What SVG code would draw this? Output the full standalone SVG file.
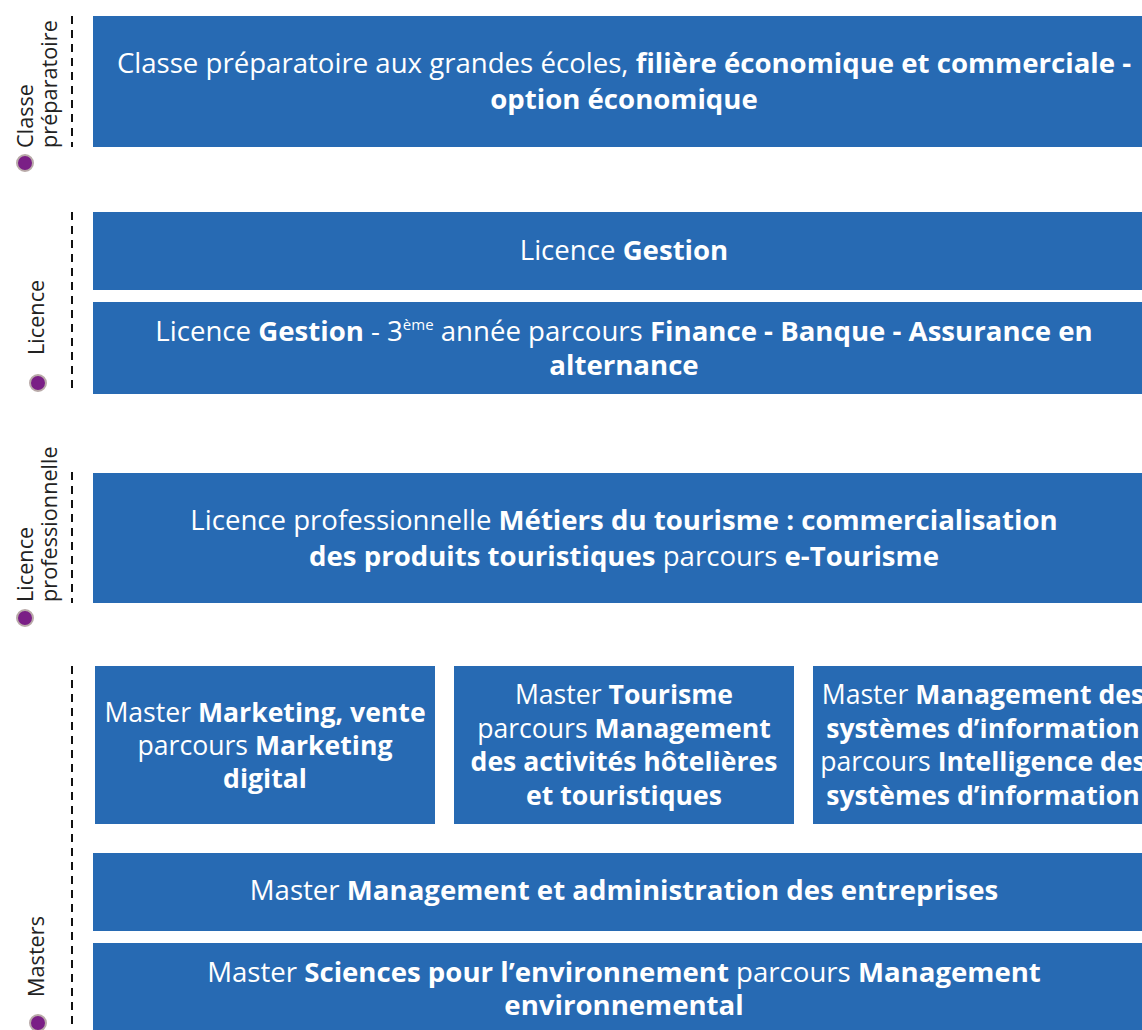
<svg xmlns="http://www.w3.org/2000/svg" width="1142" height="1030" viewBox="0 0 1142 1030">
<style>
.box{fill:#276ab3;}
.t{font-family:"Open Sans","Liberation Sans",sans-serif;font-size:27.6px;fill:#ffffff;text-anchor:middle;}
.s{font-size:26.6px;}
.b{font-weight:bold;}
.lbl{font-family:"Open Sans","Liberation Sans",sans-serif;font-size:21.7px;fill:#222222;}
.dash{stroke:#111111;stroke-width:2;stroke-dasharray:8 6;fill:none;}
.dot{fill:#7a1f86;stroke:#b9aaa9;stroke-width:2;}
</style>
<rect width="1142" height="1030" fill="#ffffff"/>
<g id="connectors">
<line class="dash" x1="72" y1="16" x2="72" y2="147"/>
<line class="dash" x1="72" y1="212" x2="72" y2="394"/>
<line class="dash" x1="72" y1="472" x2="72" y2="603"/>
<line class="dash" x1="72" y1="666" x2="72" y2="1030"/>
</g>
<g id="label-classe">
<circle class="dot" cx="25" cy="163" r="8"/>
<text class="lbl" transform="translate(33,148) rotate(-90)">Classe</text>
<text class="lbl" transform="translate(57,148) rotate(-90)">préparatoire</text>
</g>
<g id="label-licence">
<circle class="dot" cx="38" cy="383" r="8"/>
<text class="lbl" transform="translate(44,355) rotate(-90)">Licence</text>
</g>
<g id="label-licpro">
<circle class="dot" cx="25" cy="618" r="8"/>
<text class="lbl" transform="translate(33,602) rotate(-90)">Licence</text>
<text class="lbl" transform="translate(57,602) rotate(-90)">professionnelle</text>
</g>
<g id="label-masters">
<circle class="dot" cx="38" cy="1023" r="8"/>
<text class="lbl" transform="translate(44,997) rotate(-90)">Masters</text>
</g>
<g id="node-prepa">
<rect class="box" x="93" y="16" width="1062" height="131"/>
<text class="t" x="624" y="73">Classe préparatoire aux grandes écoles, <tspan class="b">filière économique et commerciale -</tspan></text>
<text class="t b" x="624" y="109">option économique</text>
</g>
<g id="node-licence-gestion">
<rect class="box" x="93" y="212" width="1062" height="78"/>
<text class="t" x="624" y="260">Licence <tspan class="b">Gestion</tspan></text>
</g>
<g id="node-licence-gestion-3">
<rect class="box" x="93" y="302" width="1062" height="92"/>
<text class="t" x="624" y="341">Licence <tspan class="b">Gestion</tspan> - 3<tspan font-size="15" dy="-11">ème</tspan><tspan dy="11"> année parcours </tspan><tspan class="b">Finance - Banque - Assurance en</tspan></text>
<text class="t b" x="624" y="375">alternance</text>
</g>
<g id="node-licpro">
<rect class="box" x="93" y="473" width="1062" height="130"/>
<text class="t" x="624" y="530">Licence professionnelle <tspan class="b">Métiers du tourisme : commercialisation</tspan></text>
<text class="t" x="624" y="566"><tspan class="b">des produits touristiques</tspan> parcours <tspan class="b">e-Tourisme</tspan></text>
</g>
<g id="node-master-marketing">
<rect class="box" x="95" y="666" width="340" height="158"/>
<text class="t s" x="265" y="722">Master <tspan class="b">Marketing, vente</tspan></text>
<text class="t s" x="265" y="755">parcours <tspan class="b">Marketing</tspan></text>
<text class="t s b" x="265" y="788">digital</text>
</g>
<g id="node-master-tourisme">
<rect class="box" x="454" y="666" width="340" height="158"/>
<text class="t s" x="624" y="704">Master <tspan class="b">Tourisme</tspan></text>
<text class="t s" x="624" y="738">parcours <tspan class="b">Management</tspan></text>
<text class="t s b" x="624" y="771">des activités hôtelières</text>
<text class="t s b" x="624" y="805">et touristiques</text>
</g>
<g id="node-master-msi">
<rect class="box" x="813" y="666" width="340" height="158"/>
<text class="t s" x="983" y="704">Master <tspan class="b">Management des</tspan></text>
<text class="t s b" x="983" y="738">systèmes d’information</text>
<text class="t s" x="983" y="771">parcours <tspan class="b">Intelligence des</tspan></text>
<text class="t s b" x="983" y="805">systèmes d’information</text>
</g>
<g id="node-master-mae">
<rect class="box" x="93" y="853" width="1062" height="78"/>
<text class="t" x="624" y="900">Master <tspan class="b">Management et administration des entreprises</tspan></text>
</g>
<g id="node-master-env">
<rect class="box" x="93" y="943" width="1062" height="100"/>
<text class="t" x="624" y="982">Master <tspan class="b">Sciences pour l’environnement</tspan> parcours <tspan class="b">Management</tspan></text>
<text class="t b" x="624" y="1015">environnemental</text>
</g>
</svg>
